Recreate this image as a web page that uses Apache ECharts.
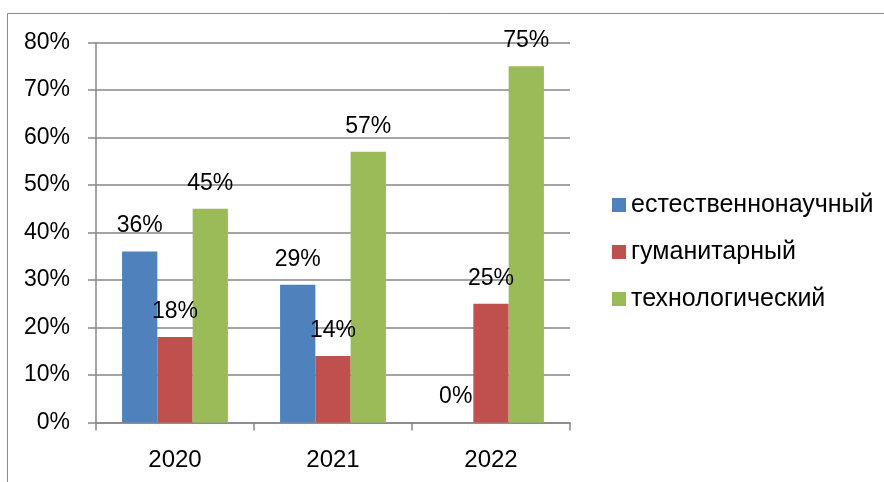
<!DOCTYPE html>
<html><head><meta charset="utf-8">
<script src="https://cdn.jsdelivr.net/npm/echarts@6/dist/echarts.min.js"></script>
<style>html,body{margin:0;padding:0;background:#fff}#c{width:884px;height:482px}</style>
</head><body><div id="c"></div>
<script>
const categories = ['2020', '2021', '2022'];
const seriesNames = ['естественнонаучный', 'гуманитарный', 'технологический'];
const naturalScience = [36, 29, 0];
const humanities = [18, 14, 25];
const technology = [45, 57, 75];
const yTicks = [0, 10, 20, 30, 40, 50, 60, 70, 80];
const colors = ['#4F81BD', '#C0504D', '#9BBB59'];

const FONT = 'Liberation Sans';
const chart = echarts.init(document.getElementById('c'), null, {renderer: 'canvas'});
const mk = (name, data, color) => ({
  name, type: 'bar', data, barGap: '0%', barCategoryGap: '33%',
  itemStyle: {color},
  label: {show: true, position: 'top', distance: 14, formatter: p => p.value + '%',
    color: '#000', fontFamily: FONT, fontSize: 23}
});
chart.setOption({
  animation: false,
  textStyle: {fontFamily: FONT},
  graphic: [{type: 'rect', shape: {x: 7.5, y: 13.5, width: 900, height: 500},
    style: {fill: null, stroke: '#8c8c8c', lineWidth: 1}, silent: true}],
  grid: {left: 96, right: 314, top: 42.5, bottom: 59.5},
  legend: {orient: 'vertical', left: 612, top: 192.5, itemWidth: 14, itemHeight: 14, itemGap: 22,
    padding: 0, icon: 'rect',
    textStyle: {fontFamily: FONT, fontSize: 25, color: '#000'},
    data: seriesNames},
  xAxis: {type: 'category', data: categories,
    axisLine: {lineStyle: {color: '#868686', width: 1.5}},
    axisTick: {show: true, length: 8, lineStyle: {color: '#868686', width: 1.5}},
    axisLabel: {color: '#000', fontFamily: FONT, fontSize: 24, margin: 26}},
  yAxis: {type: 'value', min: yTicks[0], max: yTicks[yTicks.length - 1], interval: 10,
    axisLine: {show: true, lineStyle: {color: '#868686', width: 1.5}},
    axisTick: {show: true, length: 8, lineStyle: {color: '#868686', width: 1.5}},
    splitLine: {lineStyle: {color: '#868686', width: 1.5}},
    axisLabel: {color: '#000', fontFamily: FONT, fontSize: 23, margin: 26, formatter: v => v + '%'}},
  series: [mk(seriesNames[0], naturalScience, colors[0]),
           mk(seriesNames[1], humanities, colors[1]),
           mk(seriesNames[2], technology, colors[2])]
});
</script></body></html>
